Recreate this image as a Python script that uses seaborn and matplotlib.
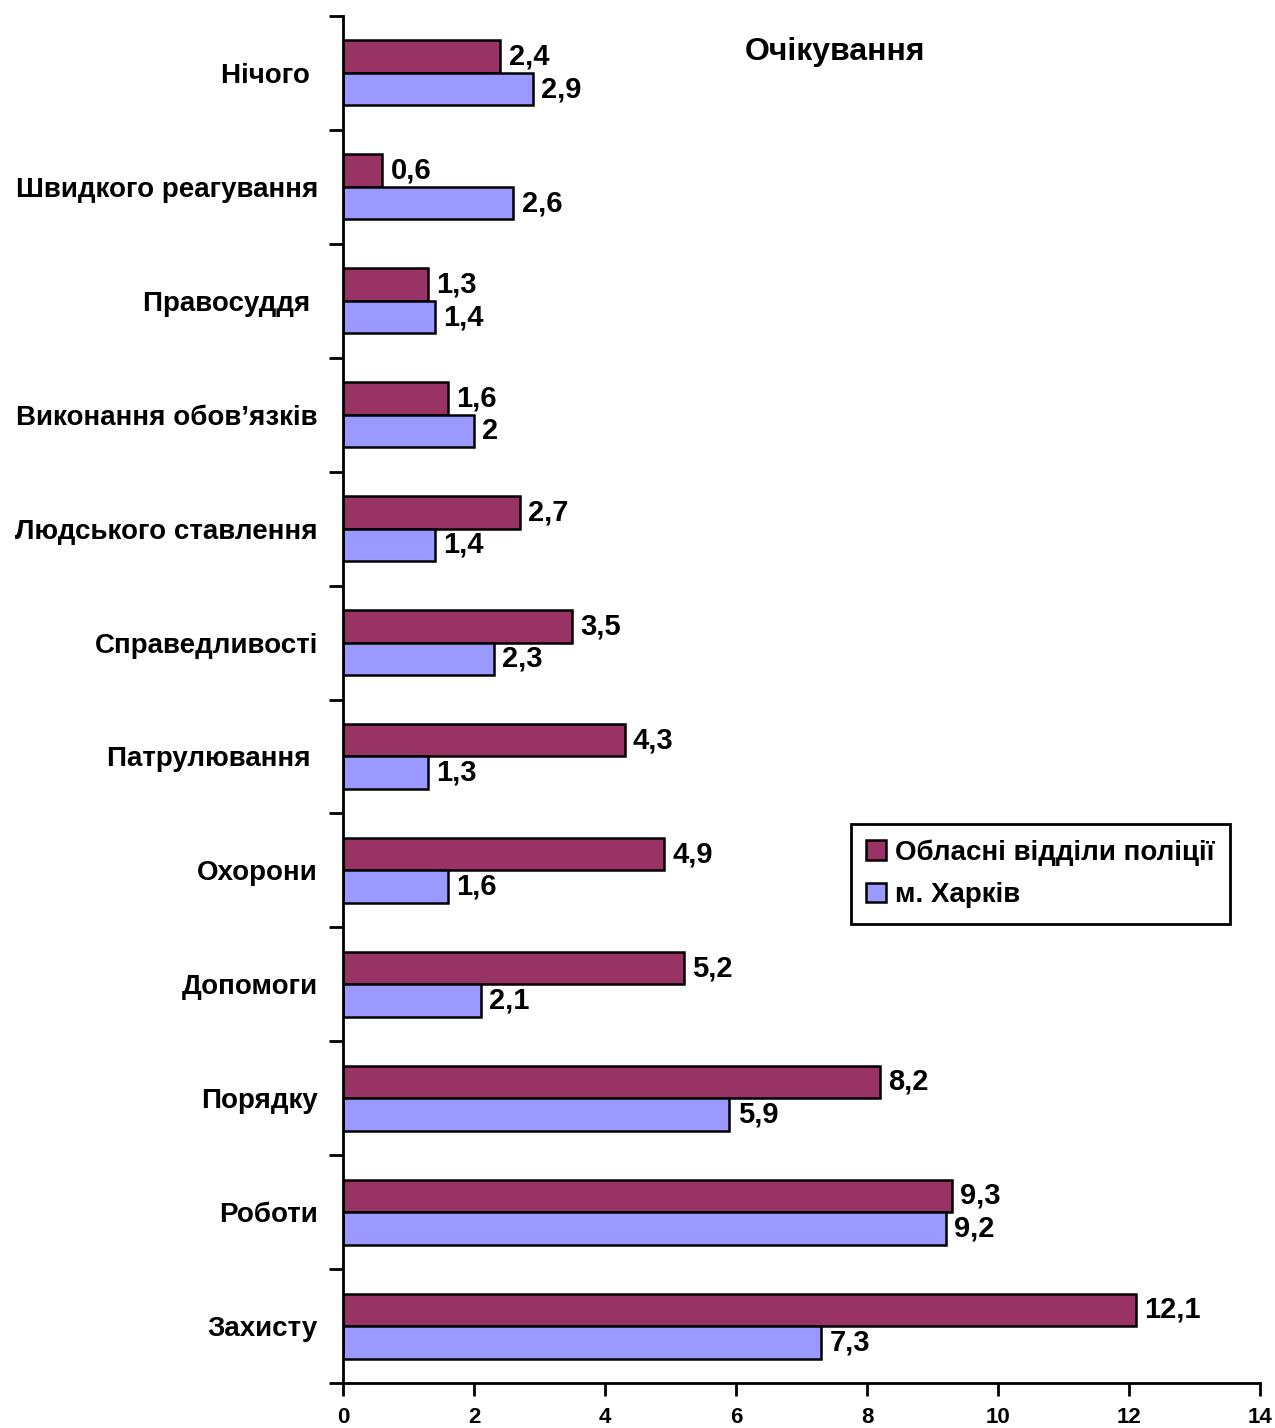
import pandas as pd
import matplotlib.pyplot as plt
import seaborn as sns

# --- дані ---
categories = ["Нічого ", "Швидкого реагування", "Правосуддя ", "Виконання обов’язків",
              "Людського ставлення", "Справедливості", "Патрулювання ", "Охорони",
              "Допомоги", "Порядку", "Роботи", "Захисту"]
oblast = [2.4, 0.6, 1.3, 1.6, 2.7, 3.5, 4.3, 4.9, 5.2, 8.2, 9.3, 12.1]
kharkiv = [2.9, 2.6, 1.4, 2.0, 1.4, 2.3, 1.3, 1.6, 2.1, 5.9, 9.2, 7.3]
series = ["Обласні відділи поліції", "м. Харків"]
colors = ["#993366", "#9999FF"]
xticks = [0, 2, 4, 6, 8, 10, 12, 14]

df = pd.DataFrame({
    "cat": categories * 2,
    "value": oblast + kharkiv,
    "series": [series[0]] * len(categories) + [series[1]] * len(categories),
})

sns.set_theme(style="white")
plt.rcParams['font.family'] = ['Liberation Sans', 'DejaVu Sans']
plt.rcParams['font.weight'] = 'bold'
plt.rcParams['text.color'] = 'black'
plt.rcParams['xtick.color'] = 'black'
plt.rcParams['ytick.color'] = 'black'

fig = plt.figure(figsize=(12.75, 14.28), dpi=100)
ax = fig.add_axes([343 / 1275, 1 - 1383 / 1428, (1260 - 343) / 1275, (1383 - 16) / 1428])

sns.barplot(data=df, y="cat", x="value", hue="series", hue_order=series,
            palette=colors, orient="h", width=0.57, edgecolor="black",
            linewidth=1.8, saturation=1, ax=ax)

for cont in ax.containers:
    labels = [f"{v:g}".replace(".", ",") for v in cont.datavalues]
    ax.bar_label(cont, labels=labels, padding=6, fontsize=21, fontweight="bold",
                 color="black")

ax.set_xlim(0, 14)
ax.set_ylim(len(categories) - 0.5, -0.5)
ax.set_xticks(xticks)
ax.set_xticklabels([str(t) for t in xticks], fontsize=16, fontweight="bold")
ax.set_yticks(range(len(categories)))
ax.set_yticklabels(categories, fontsize=20, fontweight="bold")
ax.set_yticks([i - 0.5 for i in range(len(categories) + 1)], minor=True)
ax.tick_params(axis="y", which="major", length=0, pad=18)
ax.tick_params(axis="y", which="minor", length=10, width=2, direction="out", left=True)
ax.tick_params(axis="x", length=9, width=2, direction="out", bottom=True, pad=8)
ax.set_xlabel("")
ax.set_ylabel("")

for s in ["top", "right"]:
    ax.spines[s].set_visible(False)
for s in ["left", "bottom"]:
    ax.spines[s].set_linewidth(2)
    ax.spines[s].set_color("black")

ax.text(0.536, 0.974, "Очікування", transform=ax.transAxes, ha="center", va="center",
        fontsize=23, fontweight="bold")

leg = ax.legend(loc="upper left", bbox_to_anchor=(0.554, 0.409), fancybox=False,
                frameon=True, framealpha=1, prop={"size": 20, "weight": "bold"},
                handlelength=0.7, handleheight=0.7, handletextpad=0.35, borderpad=0.55,
                labelspacing=0.6, borderaxespad=0)
leg.get_frame().set_edgecolor("black")
leg.get_frame().set_linewidth(2)

fig.savefig("out.png", dpi=100)
